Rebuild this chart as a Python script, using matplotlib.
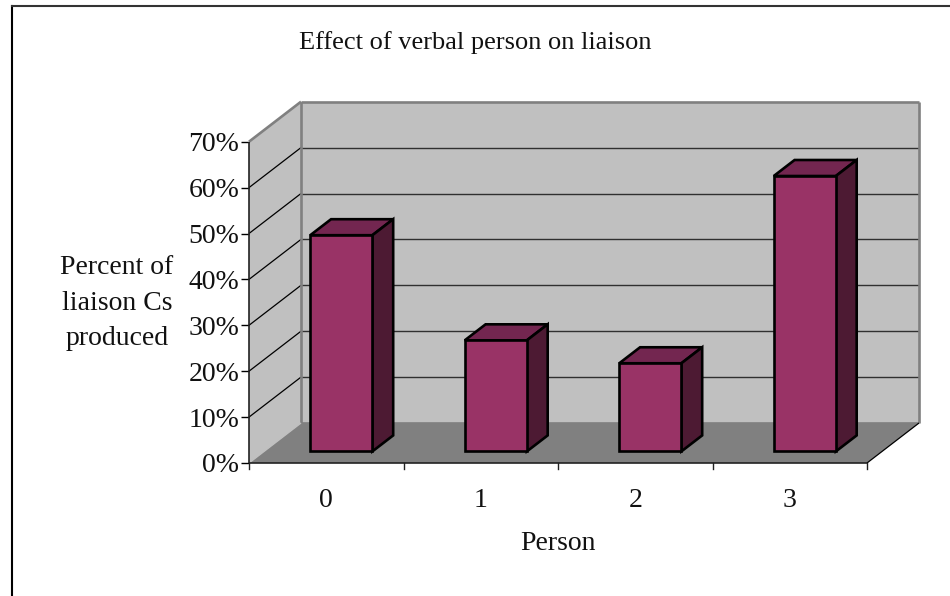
import matplotlib
matplotlib.use("Agg")
import matplotlib.pyplot as plt
from matplotlib.lines import Line2D

categories = ["0", "1", "2", "3"]
values = [47.1, 24.2, 19.2, 60.0]
y_ticks = [0, 10, 20, 30, 40, 50, 60, 70]

W, H = 950, 596
# front plane of the 3d box, in pixels
LEFT, RIGHT, BOTTOM, TOP = 249, 867, 463, 141.7
DEPTH_X = 52 / 154.5   # in category widths
DEPTH_Y = 40 / ((BOTTOM - TOP) / 70)   # in percent
BAR_W = 0.402


def proj(x, y, d=0.0):
    return x + d * DEPTH_X, y + d * DEPTH_Y


def face(ax, pts, color, ec="none", lw=0, z=1):
    xy = [proj(*p) for p in pts]
    ax.fill([p[0] for p in xy], [p[1] for p in xy], facecolor=color, edgecolor=ec,
            linewidth=lw, clip_on=False, zorder=z, joinstyle="miter")


def line(ax, a, b, color, lw, z=2):
    pa, pb = proj(*a), proj(*b)
    ax.plot([pa[0], pb[0]], [pa[1], pb[1]], color=color, lw=lw, clip_on=False,
            zorder=z, solid_capstyle="butt")


plt.rcParams["font.family"] = ["Liberation Serif", "DejaVu Serif"]
fig = plt.figure(figsize=(W / 100, H / 100), dpi=100)
ax = fig.add_axes([LEFT / W, 1 - BOTTOM / H, (RIGHT - LEFT) / W, (BOTTOM - TOP) / H])
ax.set_xlim(-0.5, 3.5)
ax.set_ylim(0, 70)
ax.patch.set_visible(False)
for s in ax.spines.values():
    s.set_visible(False)

xl, xr = -0.5, 3.5
wall = "#c0c0c0"
floor = "#808080"
edge = "#808080"

# walls and floor
face(ax, [(xl, 0, 1), (xr, 0, 1), (xr, 70, 1), (xl, 70, 1)], wall)
face(ax, [(xl, 0, 0), (xl, 0, 1), (xl, 70, 1), (xl, 70, 0)], wall)
face(ax, [(xl, 0, 0), (xr, 0, 0), (xr, 0, 1), (xl, 0, 1)], floor)

# gridlines run along the side wall then the back wall
for v in y_ticks[1:-1]:
    line(ax, (xl, v, 0), (xl, v, 1), "black", 0.9)
    line(ax, (xl, v, 1), (xr, v, 1), "#303030", 1.0)

# grey outline of the back walls
line(ax, (xl, 70, 0), (xl, 70, 1), edge, 1.9, z=3)
line(ax, (xl, 70, 1), (xr, 70, 1), edge, 1.9, z=3)
line(ax, (xl, 0, 1), (xl, 70, 1), edge, 1.9, z=3)
line(ax, (xr, 0, 1), (xr, 70, 1), edge, 1.9, z=3)
line(ax, (xl, 0, 1), (xr, 0, 1), edge, 1.2, z=3)
line(ax, (xl, 0, 0), (xl, 0, 1), wall, 1.0, z=3)
line(ax, (xr, 0, 0), (xr, 0, 1), "black", 0.9, z=3)

# bars
for i, v in enumerate(values):
    x0, x1 = i - BAR_W / 2, i + BAR_W / 2
    d0, d1 = 0.29, 0.69
    face(ax, [(x0, 0, d0), (x1, 0, d0), (x1, v, d0), (x0, v, d0)], "#993366", "black", 1.9, z=6)
    face(ax, [(x0, v, d0), (x1, v, d0), (x1, v, d1), (x0, v, d1)], "#732650", "black", 1.9, z=5)
    face(ax, [(x1, 0, d0), (x1, 0, d1), (x1, v, d1), (x1, v, d0)], "#4d1a33", "black", 1.9, z=5)

# axes lines and ticks
ax.set_xticks([])
ax.set_yticks(y_ticks)
ax.set_yticklabels([f"{v}%" for v in y_ticks], fontsize=20, color="#111111")
ax.tick_params(axis="y", length=6, width=1, color="black", pad=1)
line(ax, (xl, 0, 0), (xl, 70, 0), "#222222", 1.2, z=4)
line(ax, (xl, 0, 0), (xr, 0, 0), "#222222", 1.2, z=4)
for t in range(5):
    ax.plot([xl + t, xl + t], [0, -1.3], color="#222222", lw=1, clip_on=False, zorder=4)
for i, c in enumerate(categories):
    ax.text(i, -8.1, c, fontsize=20, color="#111111", ha="center", va="center")

fig.text(475.5 / W, 1 - 43 / H, "Effect of verbal person on liaison", fontsize=19,
         color="#111111", ha="center", va="center")
fig.text(117 / W, 1 - 303 / H, "Percent of\nliaison Cs\nproduced", fontsize=20, color="#111111",
         ha="center", va="center", linespacing=1.53)
fig.text(558 / W, 1 - 544 / H, "Person", fontsize=20, color="#111111", ha="center", va="center")

# chart border
fig.add_artist(Line2D([12 / W, 12 / W], [0, 1 - 6 / H], color="black", lw=1.5))
fig.add_artist(Line2D([12 / W, 1], [1 - 6 / H, 1 - 6 / H], color="#333333", lw=1.5))

fig.savefig("out.png", dpi=100)
